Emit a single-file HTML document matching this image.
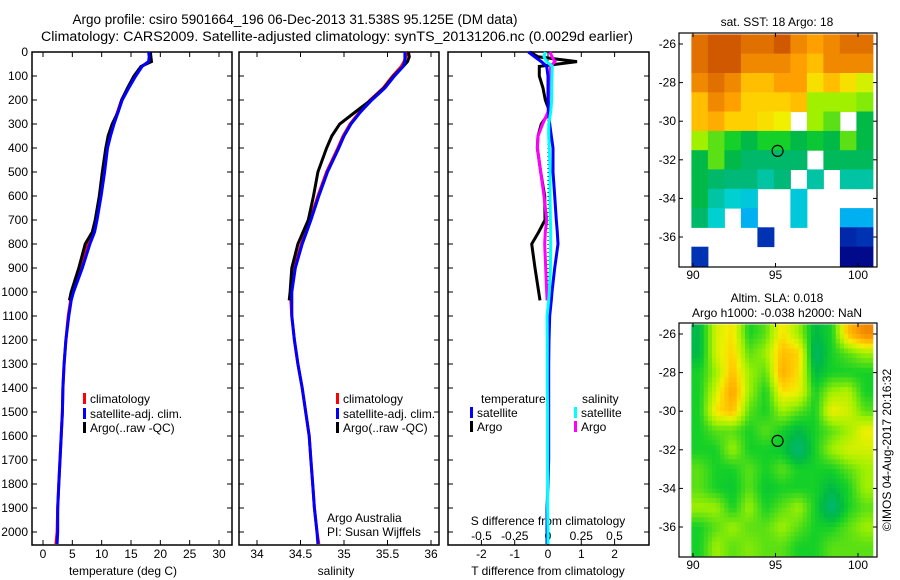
<!DOCTYPE html>
<html><head><meta charset="utf-8"><style>
html,body{margin:0;padding:0;background:#fff;}
svg{display:block;font-family:"Liberation Sans",sans-serif;}
text{fill:#000;}
</style></head><body>
<svg id="fig" width="900" height="580" viewBox="0 0 900 580">
<text x="295" y="24" font-size="13.5" text-anchor="middle">Argo profile: csiro 5901664_196 06-Dec-2013 31.538S 95.125E (DM data)</text>
<text x="337" y="41" font-size="13.5" text-anchor="middle" textLength="592" lengthAdjust="spacingAndGlyphs">Climatology: CARS2009. Satellite-adjusted climatology: synTS_20131206.nc (0.0029d earlier)</text>
<g id="p1"></g>
<g id="p2"></g>
<g id="p3"></g>
<g id="m1"></g>
<g id="m2"></g>
<text transform="translate(891,450) rotate(-90)" font-size="12" text-anchor="middle">©IMOS 04-Aug-2017 20:16:32</text>
</svg>
<script>
const depths=[0,20,40,60,100,150,200,250,300,350,400,500,600,700,750,800,900,1000,1035,1100,1200,1300,1400,1500,1600,1700,1800,1900,2000,2050];
const climT=[18.2,18.2,18.0,16.8,15.7,14.5,13.4,12.7,12.0,11.4,10.9,10.3,9.7,9.0,8.6,7.7,6.5,5.0,4.7,4.3,3.9,3.6,3.4,3.3,3.1,2.9,2.7,2.5,2.4,2.2];
const satT=[18.0,18.1,18.0,16.9,15.8,14.6,13.5,12.8,12.1,11.5,11.0,10.5,9.9,9.2,8.8,8.0,6.7,5.2,4.8,4.4,3.9,3.6,3.4,3.3,3.1,2.9,2.7,2.5,2.5,2.4];
const argoT=[18.3,18.4,18.5,16.7,15.5,14.4,13.4,12.8,11.8,11.1,10.7,10.1,9.6,8.9,8.4,7.2,6.1,4.8,4.5];
const climS=[35.72,35.71,35.69,35.66,35.56,35.45,35.30,35.18,35.07,34.99,34.93,34.80,34.70,34.61,34.56,34.51,34.43,34.39,34.39,34.40,34.43,34.47,34.52,34.56,34.60,34.62,34.64,34.66,34.69,34.71];
const satS=[35.70,35.70,35.70,35.68,35.58,35.47,35.32,35.19,35.08,35.00,34.94,34.81,34.71,34.62,34.57,34.52,34.44,34.40,34.40,34.40,34.43,34.47,34.52,34.56,34.60,34.62,34.64,34.66,34.69,34.70];
const argoS=[35.74,35.75,35.73,35.68,35.57,35.46,35.31,35.13,34.95,34.86,34.80,34.70,34.65,34.59,34.53,34.47,34.40,34.38,34.37];
const tSatDiff=[-0.59,-0.4,-0.2,-0.04,0,0,0,0.02,0.05,0.1,0.15,0.15,0.2,0.25,0.28,0.3,0.2,0.12,0.1,0.05,0.03,0.02,0.02,0.02,0.02,0.02,0,-0.03,-0.03,-0.03];
const tArgoDiff=[-0.54,-0.3,0.87,-0.26,-0.26,-0.15,-0.08,0.05,-0.2,-0.3,-0.32,-0.22,-0.1,-0.09,-0.28,-0.49,-0.39,-0.28,-0.24];
const sSatDiff=[-0.02,-0.03,-0.01,0.032,0.03,0.028,0.028,0.02,0.005,0.005,0.01,0.015,0.015,0.018,0.02,0.02,0.018,0.01,0.005,-0.007,-0.005,-0.005,-0.005,-0.003,-0.003,-0.003,-0.003,-0.003,0,0];
const sArgoDiff=[0.015,0.03,0.052,0.02,0.015,0.01,0.005,0.0,-0.04,-0.075,-0.08,-0.055,-0.03,-0.01,-0.02,-0.025,-0.017,-0.01,-0.007];
const depthTicks=[0,100,200,300,400,500,600,700,800,900,1000,1100,1200,1300,1400,1500,1600,1700,1800,1900,2000];
const tempTicks=[0,5,10,15,20,25,30];
const salTicks=[34,34.5,35,35.5,36];
const salTickLabels=["34","34.5","35","35.5","36"];
const tDiffTicks=[-2,-1,0,1,2];
const sDiffTicks=[-0.5,-0.25,0,0.25,0.5];
const mapLons=[90,95,100];
const mapLats=[-26,-28,-30,-32,-34,-36];
const sstGrid=[
[0.9,0.95,0.95,0.9,0.9,0.95,0.85,0.8,0.85,0.9,0.9],
[0.9,0.95,0.95,0.85,0.85,0.85,0.8,0.75,0.85,0.85,0.85],
[0.85,0.9,0.85,0.75,0.75,0.8,0.8,0.7,0.75,0.7,0.65],
[0.75,0.85,0.8,0.72,0.72,0.72,0.75,0.6,0.6,0.6,0.58],
[0.75,0.78,0.72,0.72,0.7,0.68,null,0.6,0.55,null,0.45],
[0.6,0.55,0.5,0.45,0.5,0.5,0.45,0.48,0.45,0.55,0.45],
[0.45,0.55,0.45,0.4,0.4,0.4,0.4,null,0.42,0.42,0.42],
[0.45,0.4,0.38,0.38,0.35,0.38,null,0.35,null,0.35,0.35],
[0.45,0.35,0.32,0.3,null,null,0.3,null,null,null,null],
[0.4,0.32,null,0.25,null,null,0.3,null,null,0.25,0.25],
[null,null,null,null,0.1,null,null,null,null,0.08,0.1],
[0.1,null,null,null,null,null,null,null,null,0.02,0.02]];
const slaGrid=[
[0.45,0.65,0.7,0.5,0.55,0.7,0.6,0.45,0.5,0.75,0.85],
[0.45,0.65,0.72,0.55,0.6,0.75,0.72,0.4,0.5,0.55,0.6],
[0.5,0.6,0.75,0.6,0.55,0.78,0.7,0.45,0.5,0.5,0.5],
[0.5,0.65,0.8,0.6,0.5,0.7,0.68,0.5,0.6,0.62,0.5],
[0.5,0.7,0.75,0.55,0.5,0.6,0.55,0.5,0.68,0.65,0.55],
[0.5,0.55,0.55,0.5,0.55,0.5,0.45,0.5,0.55,0.6,0.68],
[0.5,0.5,0.6,0.5,0.5,0.48,0.38,0.5,0.6,0.65,0.65],
[0.55,0.5,0.5,0.55,0.5,0.55,0.5,0.5,0.5,0.55,0.6],
[0.55,0.5,0.48,0.55,0.48,0.5,0.5,0.5,0.45,0.5,0.6],
[0.6,0.6,0.5,0.6,0.5,0.55,0.6,0.5,0.38,0.5,0.55],
[0.5,0.55,0.6,0.55,0.55,0.6,0.55,0.5,0.5,0.55,0.6],
[0.5,0.6,0.55,0.58,0.55,0.55,0.5,0.5,0.55,0.55,0.55]];
const argoLon=95.125, argoLat=-31.538;

const NS="http://www.w3.org/2000/svg";
function mk(parent,tag,attrs,txt){const e=document.createElementNS(NS,tag);for(const k in attrs)e.setAttribute(k,attrs[k]);if(txt!==undefined)e.textContent=txt;parent.appendChild(e);return e;}
const yTop=52, yBot=545;
const yD=d=>yTop+d*0.24;
const xT=t=>43+t*(219-43)/30;
const xS=s=>257+(s-34)*87;
const xTD=v=>548+v*33.3;
const xSD=v=>548+v*133;

function frame(g,x0,x1,xticks,tickFn){
  const r=mk(g,'rect',{x:x0,y:yTop,width:x1-x0,height:yBot-yTop,fill:'none',stroke:'#000','stroke-width':1.5});
  
  
  depthTicks.forEach(d=>{
    mk(g,'line',{x1:x0,x2:x0+5,y1:yD(d),y2:yD(d),stroke:'#000'});
    mk(g,'line',{x1:x1-5,x2:x1,y1:yD(d),y2:yD(d),stroke:'#000'});
  });
  xticks.forEach(v=>{
    mk(g,'line',{x1:tickFn(v),x2:tickFn(v),y1:yTop,y2:yTop+5,stroke:'#000'});
    mk(g,'line',{x1:tickFn(v),x2:tickFn(v),y1:yBot-5,y2:yBot,stroke:'#000'});
  });
}
function series(g,xs,xf,col,name){
  let d='';xs.forEach((v,i)=>{d+=(i?'L':'M')+xf(v).toFixed(1)+' '+yD(depths[i]).toFixed(1);});
  const p=mk(g,'path',{d:d,fill:'none',stroke:col,'stroke-width':3,'stroke-linejoin':'miter'});
  
  
}
function legendEntry(g,x,y,col,label,name){
  const grp=mk(g,'g',{});
  
  
  mk(grp,'rect',{x:x,y:y-10,width:3,height:11,fill:col});
  mk(grp,'text',{x:x+7,y:y,'font-size':12},label);
}

// Panel 1
const p1=document.getElementById('p1');
frame(p1,32,232,tempTicks,xT);
depthTicks.forEach(d=>{const t=mk(p1,'text',{x:28,y:yD(d)+4,'font-size':12,'text-anchor':'end'},String(d));
  
  });
tempTicks.forEach(v=>{const t=mk(p1,'text',{x:xT(v),y:558,'font-size':12,'text-anchor':'middle'},String(v));
  
  });
{const t=mk(p1,'text',{x:123,y:575,'font-size':12,'text-anchor':'middle'},'temperature (deg C)');

}
series(p1,climT,xT,'#ff0000','clim-temperature-line');
series(p1,argoT,xT,'#000000','argo-temperature-line');
series(p1,satT,xT,'#0000ff','sat-temperature-line');
legendEntry(p1,83,403,'#f00','climatology','legend-climatology');
legendEntry(p1,83,418,'#00f','satellite-adj. clim.','legend-satellite');
legendEntry(p1,83,432,'#000','Argo(..raw -QC)','legend-argo');

// Panel 2
const p2=document.getElementById('p2');
frame(p2,239,439,salTicks,xS);
salTicks.forEach((v,i)=>{const t=mk(p2,'text',{x:xS(v),y:558,'font-size':12,'text-anchor':'middle'},salTickLabels[i]);
  
  });
{const t=mk(p2,'text',{x:336,y:575,'font-size':12,'text-anchor':'middle'},'salinity');

}
series(p2,climS,xS,'#ff0000','clim-salinity-line');
series(p2,argoS,xS,'#000000','argo-salinity-line');
series(p2,satS,xS,'#0000ff','sat-salinity-line');
legendEntry(p2,336,403,'#f00','climatology','legend-climatology');
legendEntry(p2,336,418,'#00f','satellite-adj. clim.','legend-satellite');
legendEntry(p2,336,432,'#000','Argo(..raw -QC)','legend-argo');
{const t=mk(p2,'text',{x:327,y:522,'font-size':12},'Argo Australia');


const t2=mk(p2,'text',{x:327,y:536,'font-size':12},'PI: Susan Wijffels');

}

// Panel 3
const p3=document.getElementById('p3');
frame(p3,448,649,tDiffTicks,xTD);
mk(p3,'line',{x1:548,x2:548,y1:yTop,y2:yD(1100),stroke:'#000','stroke-dasharray':'1 3'});
tDiffTicks.forEach(v=>{const t=mk(p3,'text',{x:xTD(v),y:558,'font-size':12,'text-anchor':'middle'},String(v));
  
  });
sDiffTicks.forEach(v=>{const t=mk(p3,'text',{x:xSD(v),y:540,'font-size':12,'text-anchor':'middle'},String(v));
  
  });
{const t=mk(p3,'text',{x:548,y:575,'font-size':12,'text-anchor':'middle'},'T difference from climatology');


const t2=mk(p3,'text',{x:548,y:525,'font-size':12,'text-anchor':'middle'},'S difference from climatology');

}
series(p3,tArgoDiff,xTD,'#000000','argo-t-diff-line');
series(p3,sArgoDiff,xSD,'#ff00ff','argo-s-diff-line');
series(p3,tSatDiff,xTD,'#0000ff','sat-t-diff-line');
series(p3,sSatDiff,xSD,'#00ffff','sat-s-diff-line');
{const t=mk(p3,'text',{x:481,y:403,'font-size':12},'temperature');


const t2=mk(p3,'text',{x:582,y:403,'font-size':12},'salinity');

}
legendEntry(p3,470,417,'#00f','satellite','legend-t-satellite');
legendEntry(p3,470,431,'#000','Argo','legend-t-argo');
legendEntry(p3,574,417,'#0ff','satellite','legend-s-satellite');
legendEntry(p3,574,431,'#f0f','Argo','legend-s-argo');

// Maps
const stops=[[0,[0,0,127]],[0.1,[0,50,180]],[0.25,[0,176,240]],[0.32,[0,208,208]],[0.38,[0,184,120]],[0.45,[0,185,70]],[0.5,[20,208,40]],[0.6,[160,240,0]],[0.68,[240,240,0]],[0.72,[255,208,0]],[0.8,[255,160,0]],[0.9,[224,112,0]],[1,[192,64,0]]];
function cmap(v){for(let i=1;i<stops.length;i++){if(v<=stops[i][0]){const a=stops[i-1],b=stops[i],f=(v-a[0])/(b[0]-a[0]);const c=a[1].map((x,j)=>Math.round(x+(b[1][j]-x)*f));return 'rgb('+c.join(',')+')';}}return 'rgb(192,64,0)';}
function sample(grid,r,c){
  const R=grid.length,C=grid[0].length;
  const rr=Math.min(Math.max(r,0),R-1),cc=Math.min(Math.max(c,0),C-1);
  const r0=Math.floor(rr),c0=Math.floor(cc),r1=Math.min(r0+1,R-1),c1=Math.min(c0+1,C-1);
  const fr=rr-r0,fc=cc-c0;
  const g=(a,b)=>grid[a][b];
  return g(r0,c0)*(1-fr)*(1-fc)+g(r0,c1)*(1-fr)*fc+g(r1,c0)*fr*(1-fc)+g(r1,c1)*fr*fc;
}
function drawMap(id,top,grid,name,smooth){
  const g=document.getElementById(id);
  const x0=679,x1=877,bot=top+234;
  const xL=lon=>693+(lon-90)*16.5;
  const yL=lat=>top+11+(-26-lat)*19.3;
  const sub=smooth?4:1;
  grid.forEach((row,r)=>row.forEach((v,c)=>{
    if(v===null)return;
    for(let i=0;i<sub;i++)for(let j=0;j<sub;j++){
      const val=smooth?sample(grid,r+(i+0.5)/sub-0.5,c+(j+0.5)/sub-0.5):v;
      const xa=xL(89.9+c+j/sub),xb=Math.min(xL(89.9+c+(j+1)/sub),x1),ya=yL(-25.5-r-i/sub),yb=Math.min(yL(-25.5-r-(i+1)/sub),bot);
      if(xb<=xa||yb<=ya)continue;
      const cell=mk(g,'rect',{x:xa.toFixed(1),y:ya.toFixed(1),width:(xb-xa+0.5).toFixed(1),height:(yb-ya+0.5).toFixed(1),fill:cmap(val)});
      
      
    }
  }));
  const fr=mk(g,'rect',{x:x0,y:top,width:x1-x0,height:bot-top,fill:'none',stroke:'#000','stroke-width':1.2});
  
  
  mapLons.forEach(l=>{mk(g,'line',{x1:xL(l),x2:xL(l),y1:top,y2:top+4,stroke:'#000'});mk(g,'line',{x1:xL(l),x2:xL(l),y1:bot-4,y2:bot,stroke:'#000'});
    const t=mk(g,'text',{x:xL(l),y:bot+12,'font-size':12,'text-anchor':'middle'},String(l));
    
    });
  mapLats.forEach(l=>{mk(g,'line',{x1:x0,x2:x0+4,y1:yL(l),y2:yL(l),stroke:'#000'});mk(g,'line',{x1:x1-4,x2:x1,y1:yL(l),y2:yL(l),stroke:'#000'});
    const t=mk(g,'text',{x:676,y:yL(l)+4,'font-size':12,'text-anchor':'end'},String(l));
    
    });
  const c=mk(g,'circle',{cx:xL(argoLon),cy:yL(argoLat),r:5.5,fill:'none',stroke:'#000','stroke-width':1.2});
  
  
}
drawMap('m1',33,sstGrid,'sst',false);
drawMap('m2',323,slaGrid,'sla',true);
{const m1=document.getElementById('m1');
const t=mk(m1,'text',{x:777,y:26,'font-size':12,'text-anchor':'middle'},'sat. SST: 18 Argo: 18');


const m2=document.getElementById('m2');
const t2=mk(m2,'text',{x:777,y:302,'font-size':12,'text-anchor':'middle'},'Altim. SLA: 0.018');


const t3=mk(m2,'text',{x:777,y:317,'font-size':12,'text-anchor':'middle'},'Argo h1000: -0.038 h2000: NaN');

}
</script>
</body></html>
